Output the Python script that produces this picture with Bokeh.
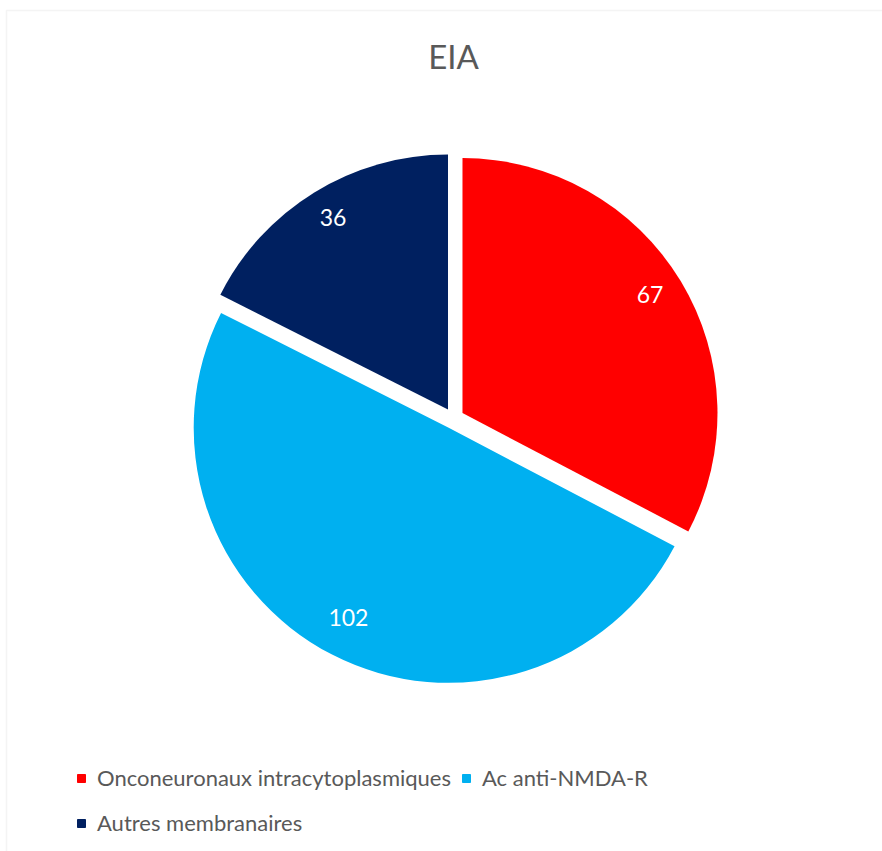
import math
from bokeh.plotting import figure
from bokeh.models import Range1d, Legend, LegendItem, Label, BoxAnnotation, ColumnDataSource
from bokeh.core.properties import value
from bokeh.embed import file_html
from bokeh.resources import INLINE

title_text = "EIA"
categories = ["Onconeuronaux intracytoplasmiques", "Ac anti-NMDA-R", "Autres membranaires"]
counts = [67, 102, 36]
colors = ["#FF0000", "#00B0F0", "#002060"]

W, H = 882, 851
CX, CY = 453, 418          # pie centre in page pixels (from top-left)
R = 255                    # radius in px
EXPLODE = 10.5             # explosion distance in px
LABEL_R = 0.86
FONT = "Lato"
TXT = "#595959"

total = float(sum(counts))
starts, ends, mids, xs, ys, lx, ly = [], [], [], [], [], [], []
cum = 0.0
for v in counts:
    a0 = cum / total
    cum += v
    a1 = cum / total
    s = math.pi / 2 - 2 * math.pi * a1
    e = math.pi / 2 - 2 * math.pi * a0
    m = (s + e) / 2
    starts.append(s); ends.append(e); mids.append(m)
    x0 = EXPLODE * math.cos(m); y0 = EXPLODE * math.sin(m)
    xs.append(x0); ys.append(y0)
    lx.append(x0 + LABEL_R * R * math.cos(m)); ly.append(y0 + LABEL_R * R * math.sin(m))

src = ColumnDataSource(dict(x=xs, y=ys, start=starts, end=ends, color=colors,
                            cat=categories, lx=lx, ly=ly, txt=[str(v) for v in counts]))

p = figure(width=W, height=H, output_backend="svg", toolbar_location=None,
           x_range=Range1d(-CX, W - CX), y_range=Range1d(CY - H, CY),
           min_border=0, match_aspect=False)
p.axis.visible = False
p.xgrid.visible = False
p.ygrid.visible = False
p.outline_line_color = None
p.background_fill_color = "white"
p.border_fill_color = "white"

# chart-area border
p.add_layout(BoxAnnotation(left=6 - CX, right=W - CX + 20, top=CY - 10, bottom=CY - H - 20,
                           fill_alpha=0, line_color="#D9D9D9", line_width=1.5))

p.wedge(x="x", y="y", radius=R, start_angle="start", end_angle="end",
        fill_color="color", line_color=None, source=src)

p.text(x="lx", y="ly", text="txt", source=src, text_color="white",
       text_font=value(FONT), text_font_size="23px", y_offset=-5,
       text_align="center", text_baseline="middle")

p.add_layout(Label(x=0, y=CY - 55, text=title_text, text_align="center", text_baseline="middle",
                   text_font=FONT, text_font_size="33px", text_color=TXT))

# legend swatches (off-screen NaN points, only their legend glyphs are shown)
sw = []
for c in colors:
    sw.append(p.scatter(x=[float("nan")], y=[float("nan")], marker="square", size=8,
                        fill_color=c, line_color=c))

def make_legend(idx, loc, spacing):
    lg = Legend(items=[LegendItem(label=categories[i], renderers=[sw[i]]) for i in idx],
                orientation="horizontal", location=loc, spacing=spacing,
                glyph_width=20, glyph_height=20, label_height=20, label_standoff=6,
                padding=0, margin=0, border_line_color=None, background_fill_alpha=0,
                label_text_font=FONT, label_text_font_size="22px", label_text_color=TXT)
    p.add_layout(lg)

make_legend([0, 1], (71, H - 777 - 14), 5)
make_legend([2], (71, H - 822 - 14), 5)

open("out.html", "w").write(file_html(p, INLINE))
